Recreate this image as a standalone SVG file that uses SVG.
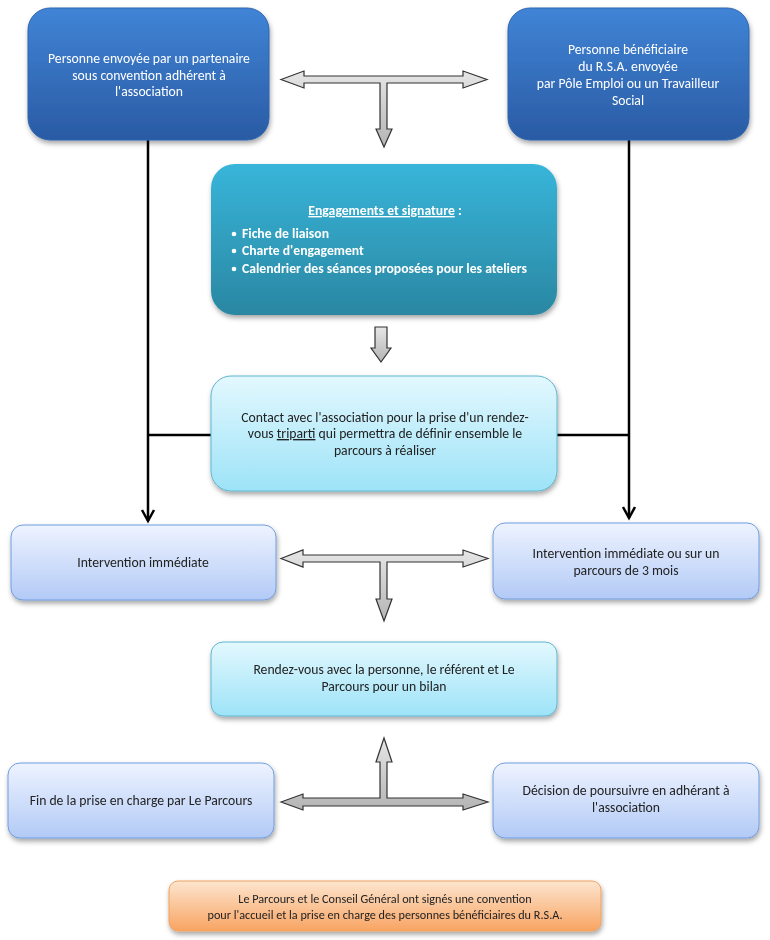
<svg xmlns="http://www.w3.org/2000/svg" width="770" height="940" viewBox="0 0 770 940">
<defs>
<linearGradient id="gBlue" x1="0" y1="0" x2="0" y2="1"><stop offset="0" stop-color="#4084d6"/><stop offset="1" stop-color="#2a5ba4"/></linearGradient>
<linearGradient id="gTeal" x1="0" y1="0" x2="0" y2="1"><stop offset="0" stop-color="#38b5da"/><stop offset="1" stop-color="#2a87a2"/></linearGradient>
<linearGradient id="gCyan" x1="0" y1="0" x2="0" y2="1"><stop offset="0" stop-color="#e3f8fe"/><stop offset="1" stop-color="#9de3f8"/></linearGradient>
<linearGradient id="gLight" x1="0" y1="0" x2="0" y2="1"><stop offset="0" stop-color="#eef3ff"/><stop offset="1" stop-color="#b2caf6"/></linearGradient>
<linearGradient id="gOrange" x1="0" y1="0" x2="0" y2="1"><stop offset="0" stop-color="#fde5cf"/><stop offset="1" stop-color="#f8a462"/></linearGradient>
<linearGradient id="gGray" x1="0" y1="0" x2="0" y2="1"><stop offset="0" stop-color="#e6e6e6"/><stop offset="1" stop-color="#b4b4b4"/></linearGradient>
<filter id="sh" x="-10%" y="-10%" width="125%" height="135%"><feDropShadow dx="1" dy="3" stdDeviation="2.5" flood-color="#000" flood-opacity="0.35"/></filter>
<style>
text{font-family:Carlito,Lato,"Liberation Sans",sans-serif;font-size:13.7px;text-anchor:middle;fill:#222}
.w{fill:#fff}
.b{font-weight:bold;fill:#fff;text-anchor:start}
.sm{font-size:12.2px}
.line{stroke:#000;stroke-width:2.5;fill:none}
.blk{fill:url(#gGray);stroke:#333;stroke-width:1.2;stroke-linejoin:miter}
</style>
</defs>

<g id="connectors">
<path class="line" d="M148,140 V521"/>
<path class="line" d="M142,510 L148,521 L154,510"/>
<path class="line" d="M629,140 V518"/>
<path class="line" d="M623,507 L629,518 L635,507"/>
<path class="line" d="M148,435 H211"/>
<path class="line" d="M557,435 H629"/>
<path class="blk" d="M281,79.5 L304,71 L304,76 L463,76 L463,71 L487,79.5 L463,88 L463,83 L387,83 L387,129 L392,129 L384,147 L376,129 L380,129 L380,83 L304,83 L304,88 Z"/>
<path class="blk" d="M375,327 L387,327 L387,348 L391,348 L381,362 L371,348 L375,348 Z"/>
<path class="blk" d="M281,558.5 L303,550 L303,555 L463,555 L463,550 L488,558.5 L463,567 L463,562 L387,562 L387,599 L392,599 L384,621 L376,599 L380,599 L380,562 L303,562 L303,567 Z"/>
<path class="blk" d="M281,802 L303,794 L303,798 L380,798 L380,762 L376,762 L384,738 L392,762 L387,762 L387,798 L463,798 L463,794 L488,802 L463,810 L463,806 L303,806 L303,810 Z"/>
</g>

<g id="n1" filter="url(#sh)">
<rect x="28" y="8" width="241" height="132" rx="22" fill="url(#gBlue)" stroke="#2d64ad" stroke-width="1"/>
<text class="w" x="149" y="63">Personne envoyée par un partenaire</text>
<text class="w" x="149" y="80">sous convention adhérent à</text>
<text class="w" x="149" y="96">l'association</text>
</g>

<g id="n2" filter="url(#sh)">
<rect x="508" y="8" width="241" height="132" rx="22" fill="url(#gBlue)" stroke="#2d64ad" stroke-width="1"/>
<text class="w" x="628" y="54">Personne bénéficiaire</text>
<text class="w" x="628" y="71">du R.S.A. envoyée</text>
<text class="w" x="628" y="88">par Pôle Emploi ou un Travailleur</text>
<text class="w" x="628" y="105">Social</text>
</g>

<g id="n3" filter="url(#sh)">
<rect x="211" y="164" width="346" height="151" rx="24" fill="url(#gTeal)"/>
<text class="w" x="385" y="215" style="font-weight:bold"><tspan text-decoration="underline">Engagements et signature</tspan> :</text>
<circle cx="234" cy="234" r="2.3" fill="#fff"/>
<circle cx="234" cy="251" r="2.3" fill="#fff"/>
<circle cx="234" cy="269" r="2.3" fill="#fff"/>
<text class="b" x="242" y="238">Fiche de liaison</text>
<text class="b" x="242" y="255">Charte d'engagement</text>
<text class="b" x="242" y="273">Calendrier des séances proposées pour les ateliers</text>
</g>

<g id="n4" filter="url(#sh)">
<rect x="211" y="376" width="346" height="115" rx="20" fill="url(#gCyan)" stroke="#5fb6cf" stroke-width="1"/>
<text x="385" y="422">Contact avec l'association pour la prise d'un rendez-</text>
<text x="385" y="438">vous <tspan text-decoration="underline">triparti</tspan> qui permettra de définir ensemble le</text>
<text x="385" y="455">parcours à réaliser</text>
</g>

<g id="n5" filter="url(#sh)">
<rect x="11" y="525" width="265" height="75" rx="12" fill="url(#gLight)" stroke="#6f9de0" stroke-width="1"/>
<text x="143" y="567">Intervention immédiate</text>
</g>

<g id="n6" filter="url(#sh)">
<rect x="493" y="523" width="266" height="76" rx="12" fill="url(#gLight)" stroke="#6f9de0" stroke-width="1"/>
<text x="626" y="558">Intervention immédiate ou sur un</text>
<text x="626" y="575">parcours de 3 mois</text>
</g>

<g id="n7" filter="url(#sh)">
<rect x="211" y="642" width="346" height="74" rx="12" fill="url(#gCyan)" stroke="#5fb6cf" stroke-width="1"/>
<text x="384" y="674">Rendez-vous avec la personne, le référent et Le</text>
<text x="384" y="691">Parcours pour un bilan</text>
</g>

<g id="n8" filter="url(#sh)">
<rect x="8" y="763" width="266" height="75" rx="12" fill="url(#gLight)" stroke="#6f9de0" stroke-width="1"/>
<text x="141" y="805">Fin de la prise en charge par Le Parcours</text>
</g>

<g id="n9" filter="url(#sh)">
<rect x="493" y="763" width="266" height="75" rx="12" fill="url(#gLight)" stroke="#6f9de0" stroke-width="1"/>
<text x="626" y="795">Décision de poursuivre en adhérant à</text>
<text x="626" y="812">l'association</text>
</g>

<g id="n10" filter="url(#sh)">
<rect x="169" y="881" width="432" height="50" rx="9" fill="url(#gOrange)" stroke="#f0a060" stroke-width="1"/>
<text class="sm" x="385" y="903">Le Parcours et le Conseil Général ont signés une convention</text>
<text class="sm" x="385" y="919">pour l'accueil et la prise en charge des personnes bénéficiaires du R.S.A.</text>
</g>
</svg>
